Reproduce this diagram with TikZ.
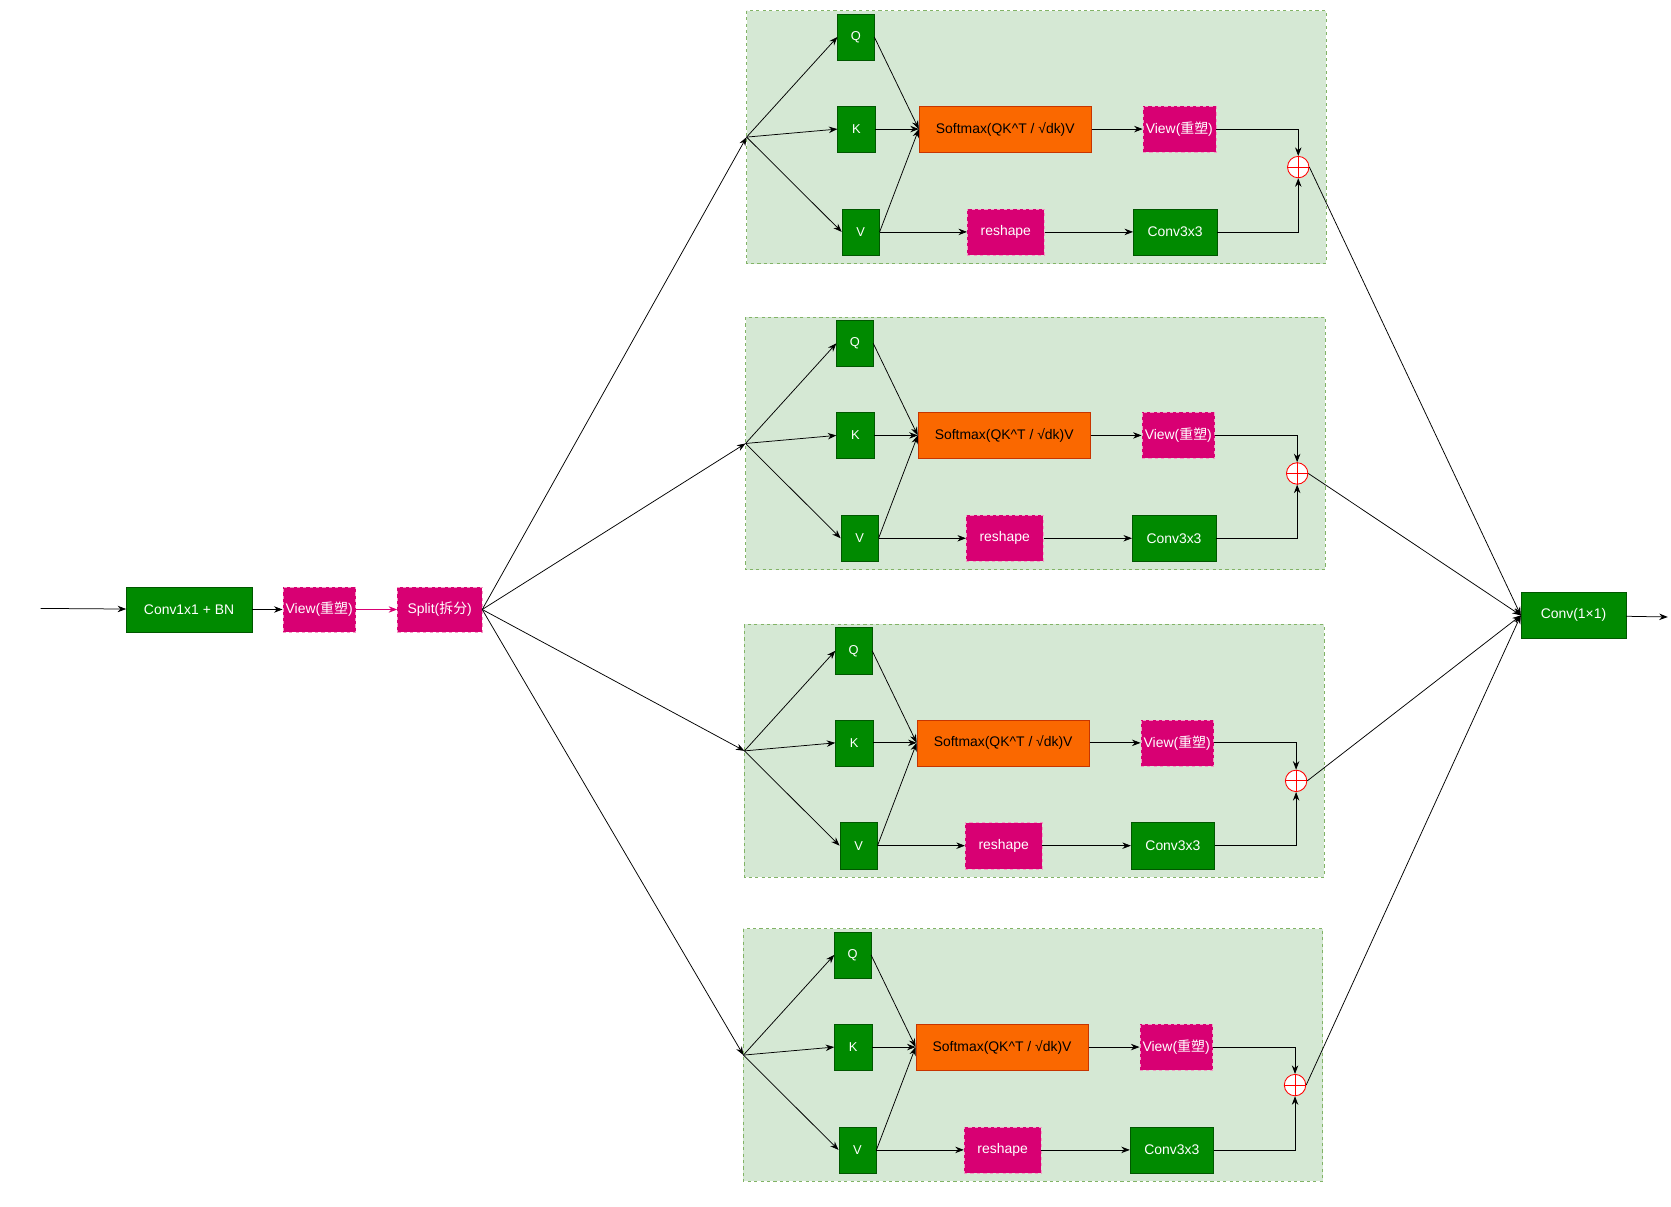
\documentclass[tikz,border=0pt]{standalone}
\usepackage{fontspec}
\setmainfont{Liberation Sans}
\newfontfamily\cjk{Noto Sans CJK SC}
\usetikzlibrary{arrows.meta}
\definecolor{gbox}{HTML}{008A00}
\definecolor{gline}{HTML}{005700}
\definecolor{pk}{HTML}{D80073}
\definecolor{pkl}{HTML}{F19CC4}
\definecolor{org}{HTML}{FA6800}
\definecolor{orgl}{HTML}{C73500}
\definecolor{bfill}{HTML}{D5E8D4}
\definecolor{bline}{HTML}{82B366}
\begin{document}
\begin{tikzpicture}[x=1pt,y=-1pt,
  every node/.style={inner sep=0pt,font=\fontsize{13}{15}\selectfont},
  g/.style={draw=gline,fill=gbox,text=white},
  p/.style={draw=pkl,fill=pk,text=white,dashed},
  o/.style={draw=orgl,fill=org,text=black},
  blk/.style={draw=bline,fill=bfill,dashed,line width=0.8pt},
  arr/.style={-{Stealth[length=8pt,width=6pt]},line width=0.7pt},
  sm/.style={font=\fontsize{12}{14}\selectfont}]
\useasboundingbox (0,0) rectangle (1560,1126);
\foreach \i/\dx/\dy in {1/0/0,2/-1/286,3/-2/573,4/-3/857}{
\begin{scope}[shift={(\dx,\dy)}]
  \draw[blk] (697,10) rectangle (1238,246);
  \coordinate (e\i) at (697,128);
  \node[g,sm,minimum width=34,minimum height=43] (q\i) at (799,34.5) {Q};
  \node[g,sm,minimum width=35,minimum height=43] (k\i) at (799.5,120.5) {K};
  \node[g,sm,minimum width=35,minimum height=43] (v\i) at (803.5,216.5) {V};
  \node[o,minimum width=161,minimum height=43] (s\i) at (938.5,120.5) {Softmax(QK\^{}T / √dk)V};
  \node[p,minimum width=68,minimum height=43] (w\i) at (1101,120.5) {View({\cjk 重塑})};
  \node[p,minimum width=72,minimum height=43] (r\i) at (939,216.5) {reshape};
  \node[g,minimum width=78,minimum height=43] (c\i) at (1097,216.5) {Conv3x3};
  \node[circle,draw=red,fill=white,minimum size=20,line width=0.8pt] (a\i) at (1212,156) {};
  \draw[red,line width=0.8pt] (a\i.north)--(a\i.south) (a\i.west)--(a\i.east);
  \draw[arr] (e\i)--(q\i.west);
  \draw[arr] (e\i)--(k\i.west);
  \draw[arr] (e\i)--(v\i.west);
  \draw[arr] (q\i.east)--(s\i.west);
  \draw[arr] (k\i.east)--(s\i.west);
  \draw[arr] (v\i.east)--(s\i.west);
  \draw[arr] (s\i)--(w\i);
  \draw[arr] (v\i.east)--(r\i);
  \draw[arr] (r\i)--(c\i);
  \draw[arr] (w\i.east)-|(a\i.north);
  \draw[arr] (c\i.east)-|(a\i.south);
\end{scope}}
\coordinate (in) at (38,568);
\node[g,minimum width=117,minimum height=42] (cbn) at (176.5,569) {Conv1x1 + BN};
\node[p,minimum width=68,minimum height=42] (vw) at (298,569) {View({\cjk 重塑})};
\node[p,minimum width=79,minimum height=42] (sp) at (410.5,569) {Split({\cjk 拆分})};
\node[g,minimum width=98,minimum height=43] (co) at (1469,574.5) {Conv(1×1)};
\coordinate (out) at (1557,576);
\draw[arr] (in)--(cbn);
\draw[arr] (cbn)--(vw);
\draw[arr,draw=pk] (vw)--(sp);
\foreach \i in {1,2,3,4}{
  \draw[arr] (sp.east)--(e\i);
  \draw[arr] (a\i.east)--(co.west);
}
\draw[arr] (co)--(out);
\end{tikzpicture}
\end{document}
